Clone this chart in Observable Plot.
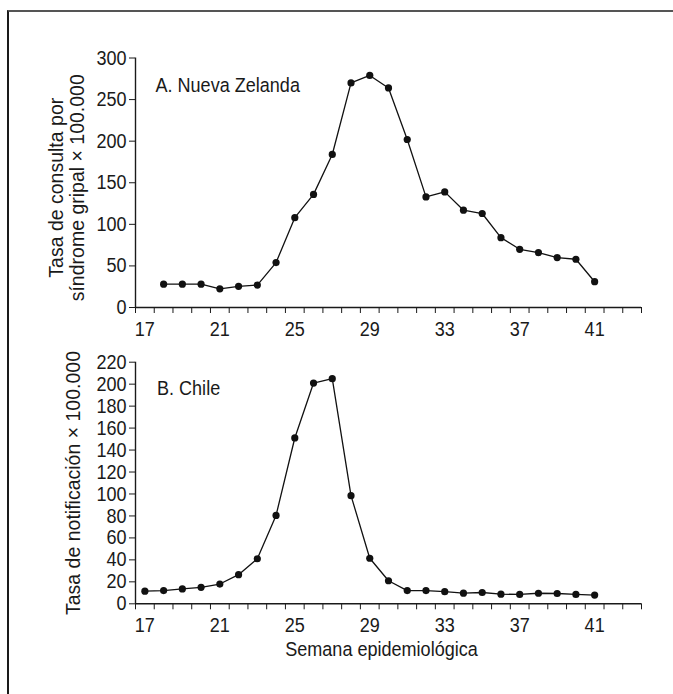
<!DOCTYPE html>
<html>
<head>
<meta charset="utf-8">
<script src="https://cdn.jsdelivr.net/npm/d3@7"></script>
<script src="https://cdn.jsdelivr.net/npm/@observablehq/plot@0.6"></script>
<style>
html, body { margin: 0; padding: 0; background: #fff; overflow: hidden; }
#wrap { position: relative; width: 673px; height: 694px; overflow: hidden; background: #fff; }
#frame { position: absolute; left: 7px; top: 10px; width: 800px; height: 800px;
  border-top: 2px solid #555; border-left: 2px solid #1a1a1a; }
#top, #bottom { position: absolute; left: 0; }
#top { top: 0; }
#bottom { top: 340px; }
</style>
</head>
<body>
<div id="wrap"><div id="frame"></div><div id="top"></div><div id="bottom"></div></div>
<script>
// ---- Data ----
const weeksNZ = [18, 19, 20, 21, 22, 23, 24, 25, 26, 27, 28, 29, 30, 31, 32, 33, 34, 35, 36, 37, 38, 39, 40, 41];
const ratesNZ = [28, 28, 28, 22.5, 25.5, 27, 54, 108, 136, 184, 270, 279, 264, 202, 133, 139, 117, 113, 84, 70, 66, 60, 58, 31];

const weeksCL = [17, 18, 19, 20, 21, 22, 23, 24, 25, 26, 27, 28, 29, 30, 31, 32, 33, 34, 35, 36, 37, 38, 39, 40, 41];
const ratesCL = [11.5, 12, 13.5, 15, 18, 26.5, 41, 80.5, 151, 201, 205, 98.5, 41.5, 21, 12, 12, 11, 9.7, 10.3, 8.8, 8.5, 9.6, 9.4, 8.5, 7.9];

const weekTickLabels = [17, 21, 25, 29, 33, 37, 41];
const weekMinorTicks = [16.5, 17.5, 18.5, 19.5, 20.5, 21.5, 22.5, 23.5, 24.5, 25.5, 26.5, 27.5, 28.5, 29.5, 30.5, 31.5, 32.5, 33.5, 34.5, 35.5, 36.5, 37.5, 38.5, 39.5, 40.5, 41.5, 42.5, 43.5];
const yTicksNZ = [0, 50, 100, 150, 200, 250, 300];
const yTicksCL = [0, 20, 40, 60, 80, 100, 120, 140, 160, 180, 200, 220];

const titleNZ = "A. Nueva Zelanda";
const titleCL = "B. Chile";
const yLabelNZ = "Tasa de consulta por\nsíndrome gripal × 100.000";
const yLabelCL = "Tasa de notificación × 100.000";
const xLabel = "Semana epidemiológica";

// ---- Styles ----
const narrow = '"Liberation Sans", sans-serif';
const regular = '"Liberation Sans", Arial, sans-serif';
const ink = "#1a1a1a";
const condense = 0.88;

function panel(o) {
  const data = o.weeks.map((w, i) => ({week: w, rate: o.rates[i]}));
  const marks = [
    Plot.axisY({ticks: o.yTicks, tickSize: 6, tickPadding: 3, label: null, stroke: ink, fill: ink}),
    Plot.axisX({ticks: weekMinorTicks, tickSize: 6, tickFormat: () => "", label: null, stroke: ink}),
    Plot.axisX({ticks: weekTickLabels, tickSize: 0, tickPadding: 14, label: null, fill: ink}),
    Plot.ruleY([0], {stroke: ink, strokeWidth: 1.4}),
    Plot.ruleX([weekMinorTicks[0]], {stroke: ink, strokeWidth: 1.4}),
    Plot.line(data, {x: "week", y: "rate", stroke: "#111", strokeWidth: 1.3}),
    Plot.dot(data, {x: "week", y: "rate", r: 3.6, fill: "#111", stroke: null}),
    Plot.text([o.title], {text: d => d, frameAnchor: "top-left", textAnchor: "start", dx: o.titleDx, dy: o.titleDy,
      fontSize: 20.5, fill: ink}),
    Plot.text([o.yLabel], {text: d => d, frameAnchor: "left", rotate: -90, textAnchor: "middle", lineHeight: 1.12,
      dx: o.yLabelDx, dy: o.yLabelDy, fontSize: 19.5, fontFamily: regular, fill: ink})
  ];
  if (o.xLabel) {
    marks.push(Plot.text([o.xLabel], {text: d => d, frameAnchor: "bottom", dx: -7, dy: o.xLabelDy,
      fontSize: 20.5, fill: ink}));
  }
  return Plot.plot({
    width: 673,
    height: o.height,
    marginLeft: 135,
    marginRight: 32,
    marginTop: o.marginTop,
    marginBottom: o.marginBottom,
    x: {domain: [weekMinorTicks[0], weekMinorTicks[weekMinorTicks.length - 1]]},
    y: {domain: o.yDomain},
    style: {background: "transparent", fontFamily: narrow, fontSize: "20.5px", color: ink, overflow: "visible"},
    marks
  });
}

// condense the tick/title texts horizontally to mimic a condensed typeface
function condenseTexts(svg) {
  svg.querySelectorAll("text").forEach(t => {
    const tr = t.getAttribute("transform") || "";
    if (tr.includes("rotate")) return;
    if (t.querySelector("tspan")) return;
    const len = t.getComputedTextLength();
    if (len > 0) {
      t.setAttribute("textLength", (len * condense).toFixed(2));
      t.setAttribute("lengthAdjust", "spacingAndGlyphs");
    }
  });
}

const topPlot = panel({
  weeks: weeksNZ, rates: ratesNZ, yTicks: yTicksNZ, yDomain: [0, 300],
  title: titleNZ, titleDx: 20, titleDy: 19,
  yLabel: yLabelNZ, yLabelDx: -69, yLabelDy: 5,
  height: 340, marginTop: 57.5, marginBottom: 33
});
document.getElementById("top").append(topPlot);
condenseTexts(topPlot);

const bottomPlot = panel({
  weeks: weeksCL, rates: ratesCL, yTicks: yTicksCL, yDomain: [0, 220],
  title: titleCL, titleDx: 21.5, titleDy: 18.5,
  yLabel: yLabelCL, yLabelDx: -63, yLabelDy: 0,
  xLabel: xLabel, xLabelDy: 52.5,
  height: 354, marginTop: 21.7, marginBottom: 90.7
});
document.getElementById("bottom").append(bottomPlot);
condenseTexts(bottomPlot);
</script>
</body>
</html>
